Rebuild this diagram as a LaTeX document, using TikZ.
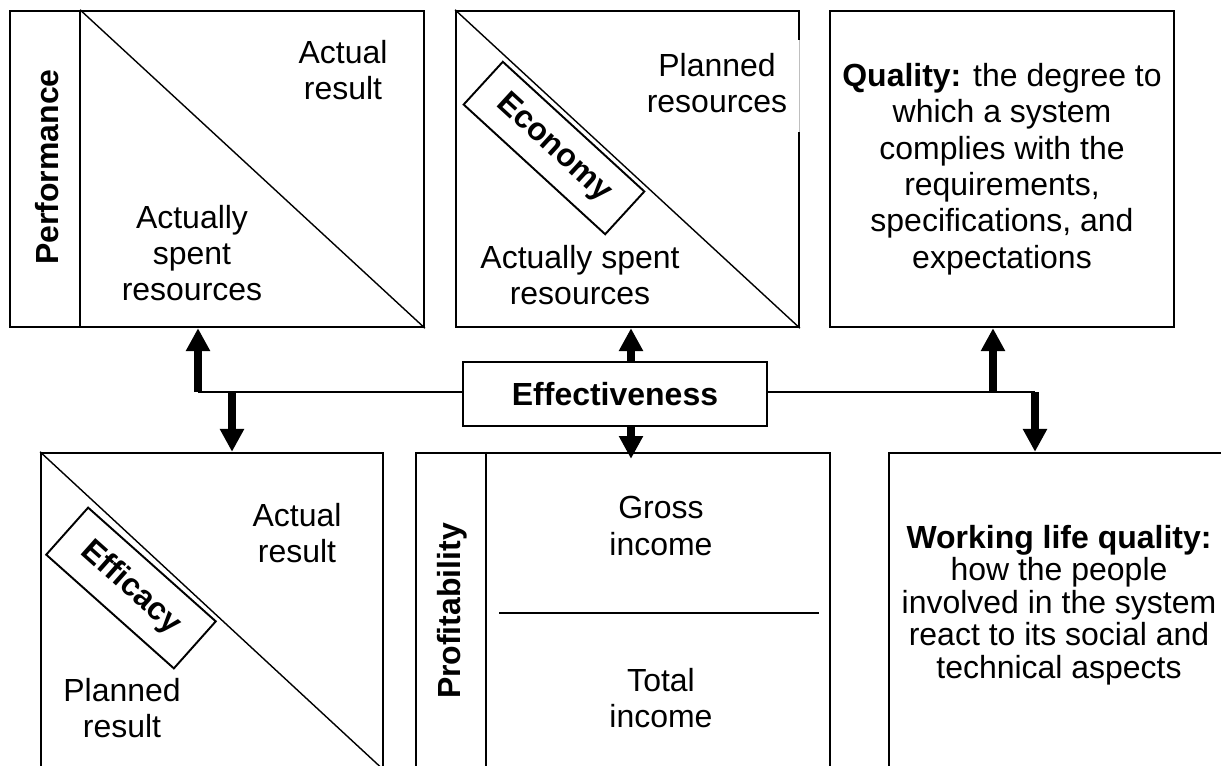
\documentclass[tikz,border=0pt]{standalone}
\usepackage{fontspec}
\setmainfont{Liberation Sans}
\usetikzlibrary{arrows.meta,positioning}
\tikzset{
	panel/.style={draw,line width=1.1pt,minimum height=6.33cm,inner sep=0pt},
	tag/.style={draw,fill=white,line width=1.1pt,inner sep=0pt,minimum height=1.16cm,font=\fontsize{18.2}{20.7}\selectfont\bfseries},
	side/.style={rotate=90,font=\fontsize{18.2}{20.7}\selectfont\bfseries},
	lbl/.style={align=center},
	link/.style={line width=1.1pt},
	diag/.style={line width=0.8pt},
	bigarrow/.style={-{Triangle[width=13pt,length=13pt]},line width=4pt}
}

\begin{document}
\begin{tikzpicture}[x=0.02cm,y=-0.02cm,every node/.style={font=\fontsize{18.2}{20.7}\selectfont}]
\useasboundingbox (0,0) rectangle (1221,765);
\clip (0,0) rectangle (1221,765);
% top row
\node[panel,minimum width=8.28cm] (perf) at (217,169) {};
\node[panel,minimum width=6.86cm] (econ) at (627.5,169) {};
\node[panel,minimum width=6.88cm,lbl] (qual) at (1002,169) {\textbf{Quality:} the degree to\\which a system\\complies with the\\requirements,\\specifications, and\\expectations};
% bottom row
\node[panel,minimum width=6.84cm] (effi) at (212,611) {};
\node[panel,minimum width=8.28cm] (prof) at (623,611) {};
\node[panel,minimum width=6.8cm] (work) at (1059,611) {};
\node[lbl,font=\fontsize{18.2}{18.5}\selectfont] (worktxt) at (1059,605) {\textbf{Working life quality:}\\how the people\\involved in the system\\react to its social and\\technical aspects};

\node[draw,line width=1.1pt,minimum width=6.08cm,minimum height=1.28cm,font=\fontsize{18.2}{20.7}\selectfont\bfseries] (eff) at (615,394) {Effectiveness};

% splits inside the panels
\draw[link] ([xshift=1.42cm]perf.north west) coordinate (perfcut) -- ([xshift=1.42cm]perf.south west);
\draw[diag] (perfcut) -- (perf.south east);
\draw[diag] (econ.north west) -- (econ.south east);
\draw[diag] (effi.north west) -- (effi.south east);
\draw[line width=1.6pt] ([xshift=1.42cm]prof.north west) -- ([xshift=1.42cm]prof.south west);
\draw[diag] (499,613) -- (819,613);
\fill[white] (796,40) rectangle (803,132);
\draw[black!25,line width=0.4pt] (799,40) -- (799,132);

% labels
\node[side] (perflbl) at (47,167) {Performance};
\node[lbl] (perfres) at (343,70) {Actual\\result};
\node[lbl] (perfspent) at (192,253) {Actually\\spent\\resources};
\node[lbl] (econplan) at (717,83) {Planned\\resources};
\node[lbl] (econspent) at (580,275) {Actually spent\\resources};
\node[tag,minimum width=3.84cm,rotate=-42.5] (econtag) at (554,148) {Economy};
\node[lbl] (effires) at (297,533) {Actual\\result};
\node[lbl] (effiplan) at (122,708) {Planned\\result};
\node[tag,minimum width=3.42cm,minimum height=1.26cm,rotate=-41.7] (effitag) at (131,588) {Efficacy};
\node[side] (proflbl) at (452,611) {Profitability};
\node[lbl] (gross) at (661,526) {Gross\\income};
\node[lbl] (total) at (661,698) {Total\\income};

% connectors
\coordinate (lj) at (198,392);
\coordinate (ld) at (232,392);
\coordinate (ru) at (993,392);
\coordinate (rj) at (1035,392);
\draw[link] (eff.west |- lj) -- (lj);
\draw[link] (eff.east |- rj) -- (rj);
\draw[bigarrow] (lj) -- (lj |- perf.south);
\draw[bigarrow] (ld) -- (ld |- effi.north);
\draw[bigarrow] ([xshift=0.32cm]eff.north) -- ([xshift=0.32cm]eff.north |- econ.south);
\draw[bigarrow,shorten >=-4pt] ([xshift=0.32cm]eff.south) -- ([xshift=0.32cm]eff.south |- prof.north);
\draw[bigarrow] (ru) -- (ru |- qual.south);
\draw[bigarrow] (rj) -- (rj |- work.north);
\end{tikzpicture}
\end{document}
